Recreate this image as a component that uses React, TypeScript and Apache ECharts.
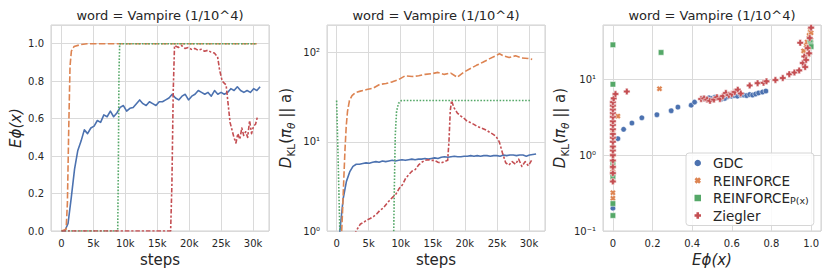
import React, { useEffect, useRef } from 'react';
import * as echarts from 'echarts';

const FONT = 'DejaVu Sans';
const INK = '#262626';
const GRIDLINE = '#dadada';
const BLUE = '#4c72b0';
const ORANGE = '#dd8452';
const GREEN = '#55a868';
const RED = '#c44e52';

const TITLE = 'word = Vampire (1/10^4)';

// ---------- training steps (regular logging grid) ----------
const gridSteps = [
  0, 510, 1020, 1530, 2040, 2550, 3060, 3570, 4080, 4590, 5100, 5610, 6120, 6630, 7140, 7650,
  8160, 8670, 9180, 9690, 10200, 10710, 11220, 11730, 12240, 12750, 13260, 13770, 14280, 14790,
  15300, 15810, 16320, 16830, 17340, 17850, 18360, 18870, 19380, 19890, 20400, 20910, 21420,
  21930, 22440, 22950, 23460, 23970, 24480, 24990, 25500, 26010, 26520, 27030, 27540, 28050,
  28560, 29070, 29580, 30090, 30600, 31110,
];

// ---------- panel 1 : E phi(x) vs steps ----------
const gdcEphi = [
  0.0, 0.0, 0.04, 0.18, 0.33, 0.43, 0.48, 0.54, 0.52, 0.55,
  0.56, 0.59, 0.58, 0.62, 0.61, 0.64, 0.61, 0.63, 0.66, 0.67,
  0.64, 0.655, 0.66, 0.68, 0.70, 0.68, 0.67, 0.69, 0.68, 0.67,
  0.69, 0.69, 0.70, 0.71, 0.73, 0.71, 0.70, 0.72, 0.73, 0.70,
  0.72, 0.73, 0.75, 0.74, 0.73, 0.74, 0.72, 0.75, 0.73, 0.74,
  0.73, 0.74, 0.76, 0.75, 0.77, 0.75, 0.74, 0.75, 0.74, 0.76,
  0.75, 0.77,
];
const reinfEphiSteps = [0, 720, 920, 1130, 1330, 1540, 1950, 2970, 3990, 30600];
const reinfEphi = [0, 0.01, 0.15, 0.55, 0.88, 0.96, 0.985, 0.995, 1.0, 1.0];
const pxEphiSteps = [0, 8800, 8900, 9000, 9110, 30600];
const pxEphi = [0, 0, 0.35, 0.85, 1.0, 1.0];
const zieglerEphiSteps = [
  0, 17090, 17290, 17500, 17700, 18010, 18310, 18830, 19340, 19850,
  20360, 20870, 21380, 21890, 22410, 22920, 23430, 23940, 24450, 24760,
  25170, 25480, 25780, 26090, 26400, 26700, 27010, 27320, 27620, 27930,
  28240, 28540, 28850, 29160, 29460, 29770, 30080, 30390, 30690,
];
const zieglerEphi = [
  0, 0, 0.25, 0.75, 0.99, 0.985, 0.98, 0.99, 0.975, 0.98,
  0.97, 0.975, 0.965, 0.97, 0.96, 0.965, 0.955, 0.95, 0.93, 0.86,
  0.80, 0.79, 0.78, 0.68, 0.58, 0.54, 0.50, 0.47, 0.52, 0.49,
  0.55, 0.51, 0.53, 0.50, 0.59, 0.52, 0.56, 0.57, 0.61,
];

// ---------- panel 2 : KL vs steps ----------
const gdcKL = [
  0.5, 1.0, 2.3, 3.6, 4.6, 5.3, 5.6, 5.6, 5.7, 5.8,
  5.75, 5.9, 6.0, 5.9, 6.1, 6.0, 6.1, 6.2, 6.1, 6.2,
  6.3, 6.2, 6.3, 6.4, 6.3, 6.4, 6.4, 6.5, 6.4, 6.5,
  6.6, 6.5, 6.7, 6.8, 6.7, 6.8, 6.9, 6.8, 6.8, 6.9,
  6.9, 7.0, 6.9, 7.0, 6.9, 7.0, 7.0, 6.9, 7.0, 7.0,
  6.9, 7.1, 7.0, 7.1, 7.1, 7.0, 7.1, 7.1, 6.9, 7.1,
  7.2, 7.3,
];
const reinfKLSteps = [
  600, 900, 1100, 1300, 1500, 1700, 2000, 2400, 2900, 3700,
  4700, 5700, 6700, 7700, 8700, 9700, 10700, 11800, 12800, 13800,
  14800, 15800, 16800, 17800, 18800, 19800, 20800, 21800, 22800, 23800,
  24900, 25400, 25900, 26900, 27900, 28900, 29900, 30500,
];
const reinfKL = [
  0.5, 1.5, 3.5, 8, 15, 22, 29, 33, 35.5, 37,
  38.5, 40, 44, 45, 47, 50, 55, 54, 55, 57,
  58, 60, 57, 59, 53, 60, 66, 72, 78, 85,
  93, 97, 93, 88, 92, 87, 86, 84,
];
const pxKLSteps = [0, 200, 400, 600, 8850, 9000, 9150, 9350, 9650, 10100, 30400];
const pxKL = [29, 8, 2, 0.5, 0.5, 3, 12, 22, 27, 29, 29];
const zieglerKLSteps = [
  2720, 3220, 3720, 4230, 4730, 5230, 5740, 6240, 6740, 7250,
  7750, 8250, 8760, 9260, 9760, 10270, 10770, 11270, 11780, 12280,
  12790, 13290, 13790, 14300, 14800, 15300, 15810, 16310, 16810, 17320,
  17520, 17720, 17920, 18320, 18830, 19330, 19830, 20340, 20840, 21340,
  21850, 22350, 22850, 23360, 23860, 24360, 24870, 25370, 25870, 26380,
  26880, 27380, 27890, 28390, 28890, 29400, 29900, 30400,
];
const zieglerKL = [
  0.9, 1.05, 1.2, 1.25, 1.33, 1.38, 1.45, 1.55, 1.7, 1.8,
  2.0, 2.2, 2.4, 2.6, 3.0, 3.3, 3.9, 4.3, 4.7, 4.9,
  5.5, 5.9, 6.2, 6.3, 6.2, 6.2, 5.9, 5.8, 6.0, 6.2,
  10, 22, 29, 24, 21, 19.5, 18.5, 17, 16.5, 15.8,
  15, 14.5, 14, 13.5, 12.8, 12.2, 11.5, 10, 7.5, 5.8,
  5.5, 6.0, 5.6, 6.4, 5.3, 6.0, 5.4, 6.2,
];

// ---------- panel 3 : KL vs E phi(x) ----------
const gdcScatterE = [
  0, 0.025, 0.054, 0.096, 0.146, 0.222, 0.294, 0.328, 0.395, 0.412,
  0.452, 0.468, 0.485, 0.5, 0.515, 0.53, 0.548, 0.565, 0.58, 0.598,
  0.612, 0.628, 0.645, 0.66, 0.675, 0.69, 0.705, 0.72, 0.735, 0.755, 0.772,
];
const gdcScatterKL = [
  0.2, 1.65, 2.19, 2.65, 3.11, 3.41, 3.85, 4.3, 4.56, 5.0,
  5.6, 5.5, 5.7, 5.6, 5.8, 5.7, 5.5, 5.6, 5.9, 6.0,
  6.1, 6.0, 6.2, 6.2, 6.1, 6.3, 6.2, 6.4, 6.6, 6.8, 7.0,
];
const reinfScatterE = [
  0, 0, 0, 0, 0, 0, 0, 0, 0, 0, 0, 0, 0, 0.025, 0.235,
  0.962, 0.975, 0.98, 0.99, 0.995, 1.0, 1.0, 0.985,
];
const reinfScatterKL = [
  0.27, 0.32, 0.46, 0.52, 0.65, 0.8, 1.0, 1.25, 1.6, 2.0, 2.6, 3.3, 4.3, 3.27, 7.5,
  23.7, 28, 31, 38, 45, 33, 41, 21,
];
const pxScatterE = [0, 0, 0.243, 0, 0, 0, 0, 0, 0.998, 1.0, 0.995];
const pxScatterKL = [28.5, 8.6, 22.6, 0.79, 0.56, 0.52, 0.23, 0.16, 30, 27, 33];
const zieglerScatterE = [
  0, 0, 0, 0, 0, 0, 0, 0, 0, 0, 0, 0, 0, 0, 0, 0, 0, 0,
  0.004, 0.013, 0.07,
  0.445, 0.46, 0.475, 0.49, 0.51, 0.525, 0.54, 0.555, 0.57, 0.585, 0.6, 0.615, 0.63, 0.645,
  0.69, 0.73, 0.76, 0.775, 0.82, 0.857, 0.89, 0.916, 0.94,
  0.945, 0.958, 0.966, 0.97, 0.975, 0.983, 0.99, 0.993, 1.0,
];
const zieglerScatterKL = [
  0.45, 0.58, 0.7, 0.85, 1.0, 1.15, 1.3, 1.5, 1.7, 1.9, 2.2, 2.5, 2.8, 3.2, 3.6, 4.0, 4.5, 5.0,
  5.6, 6.4, 6.9,
  5.5, 5.6, 5.4, 5.2, 5.4, 5.8, 5.5, 6.0, 6.6, 6.2, 6.4, 6.8, 7.3, 6.5,
  8.3, 8.9, 9.0, 9.4, 9.8, 10.4, 11.7, 12.3, 13.1,
  30.3, 16.4, 20, 14.5, 18, 25.8, 22, 35, 48,
];

// ---------- helpers ----------
const pairs = (xs: number[], ys: number[]) => xs.map((x, i) => [x, ys[i]]);

const X_PATH = 'path://M0,3L3,0L5,2L7,0L10,3L8,5L10,7L7,10L5,8L3,10L0,7L2,5Z';
const P_PATH = 'path://M3,0H7V3H10V7H7V10H3V7H0V3H3Z';

const SUP: Record<string, string> = { '-1': '⁻¹', '0': '⁰', '1': '¹', '2': '²' };

const kFmt = (v: number) => {
  if (Math.abs(v / 5000 - Math.round(v / 5000)) > 1e-6) return '';
  return v === 0 ? '0' : `${Math.round(v / 1000)}k`;
};
const dec1Fmt = (v: number) => {
  if (Math.abs(v * 5 - Math.round(v * 5)) > 1e-6) return '';
  return v.toFixed(1);
};
const fracFmt = (v: number) => {
  if (Math.abs(v * 5 - Math.round(v * 5)) > 1e-6) return '';
  return Math.abs(v) < 1e-9 ? '0' : v.toFixed(1);
};
const logFmt = (v: number) => {
  const l = Math.log10(v);
  const r = Math.round(l);
  if (Math.abs(l - r) > 1e-6) return '';
  return '10' + (SUP[String(r)] ?? '');
};

const tickLabel = { color: INK, fontSize: 10, fontFamily: FONT, margin: 7 };
const splitLine = { show: true, lineStyle: { color: GRIDLINE, width: 1 } };

const plainName = { fontSize: 15, color: INK, fontFamily: FONT };
const italicName = { fontSize: 15, color: INK, fontFamily: FONT, fontStyle: 'italic' as const };
const klName = {
  fontSize: 15,
  color: INK,
  fontFamily: FONT,
  lineHeight: 20,
  rich: {
    it: { fontSize: 15, fontStyle: 'italic', color: INK, fontFamily: FONT, lineHeight: 20 },
    n: { fontSize: 15, color: INK, fontFamily: FONT, lineHeight: 20 },
    sub: { fontSize: 10.5, color: INK, fontFamily: FONT, lineHeight: 10, verticalAlign: 'bottom' },
    subi: {
      fontSize: 10.5, color: INK, fontFamily: FONT, fontStyle: 'italic', lineHeight: 10, verticalAlign: 'bottom',
    },
  },
};
const KL_LABEL = '{it|D}{sub|KL}{n|(}{it|π}{subi|θ}{n| || a)}';

const lineSeries = (
  name: string, xs: number[], ys: number[], color: string, dash: any, axis: number, z: number,
) => ({
  type: 'line',
  name,
  xAxisIndex: axis,
  yAxisIndex: axis,
  data: pairs(xs, ys),
  showSymbol: false,
  symbol: 'none',
  clip: true,
  z,
  lineStyle: { color, width: 1.6, type: dash, cap: 'butt', join: 'round' },
});

const DASH = [6.5, 2.4];
const DOT = [1.6, 1.6];
const DASHDOT = [4.5, 1.9, 2.25, 1.9];

const scatterSeries = (
  name: string, xs: number[], ys: number[], color: string, symbol: string, size: number, z: number,
) => ({
  type: 'scatter',
  name,
  xAxisIndex: 2,
  yAxisIndex: 2,
  data: pairs(xs, ys),
  symbol,
  symbolSize: size,
  clip: true,
  z,
  itemStyle: { color, borderColor: '#ffffff', borderWidth: 0.5, opacity: 1 },
});

const GRIDS = [
  { left: 51, top: 25, width: 218, height: 206 },
  { left: 327, top: 25, width: 218, height: 206 },
  { left: 603, top: 25, width: 218, height: 206 },
];

const legendText = (name: string) =>
  name === 'REINFORCEPX' ? '{t|REINFORCE}{sub|P(x)}' : `{t|${name}}`;

export default function App() {
  const ref = useRef<HTMLDivElement>(null);

  useEffect(() => {
    if (!ref.current) return;
    const chart = echarts.init(ref.current, undefined, { renderer: 'svg' });

    const option: any = {
      animation: false,
      backgroundColor: '#ffffff',
      textStyle: { fontFamily: FONT },
      grid: GRIDS.map((g) => ({
        ...g,
        show: true,
        borderColor: '#d0d0d0',
        borderWidth: 1,
        backgroundColor: '#ffffff',
        containLabel: false,
      })),
      graphic: GRIDS.map((g) => ({
        type: 'text',
        x: g.left + g.width / 2,
        y: 15.5,
        style: {
          text: TITLE,
          fontSize: 13,
          fontFamily: FONT,
          fill: INK,
          align: 'center',
          verticalAlign: 'middle',
        },
      })),
      xAxis: [
        {
          type: 'value', gridIndex: 0, min: -1650, max: 32500,
          axisLine: { show: false }, axisTick: { show: false }, splitLine,
          axisLabel: { ...tickLabel, formatter: kFmt },
          name: 'steps', nameLocation: 'middle', nameGap: 15, nameTextStyle: plainName,
        },
        {
          type: 'value', gridIndex: 1, min: -1500, max: 32500,
          axisLine: { show: false }, axisTick: { show: false }, splitLine,
          axisLabel: { ...tickLabel, formatter: kFmt },
          name: 'steps', nameLocation: 'middle', nameGap: 15, nameTextStyle: plainName,
        },
        {
          type: 'value', gridIndex: 2, min: -0.05, max: 1.05,
          axisLine: { show: false }, axisTick: { show: false }, splitLine,
          axisLabel: { ...tickLabel, formatter: fracFmt },
          name: 'Eϕ(x)', nameLocation: 'middle', nameGap: 14, nameTextStyle: italicName,
        },
      ],
      yAxis: [
        {
          type: 'value', gridIndex: 0, min: 0, max: 1.1,
          axisLine: { show: false }, axisTick: { show: false }, splitLine,
          axisLabel: { ...tickLabel, formatter: dec1Fmt },
          name: 'Eϕ(x)', nameLocation: 'middle', nameGap: 28, nameTextStyle: italicName,
        },
        {
          type: 'log', logBase: 10, gridIndex: 1, min: 1, max: 204,
          axisLine: { show: false }, axisTick: { show: false }, splitLine,
          minorTick: { show: false }, minorSplitLine: { show: false },
          axisLabel: { ...tickLabel, formatter: logFmt },
          name: KL_LABEL, nameLocation: 'middle', nameGap: 31, nameTextStyle: klName,
        },
        {
          type: 'log', logBase: 10, gridIndex: 2, min: 0.1, max: 52,
          axisLine: { show: false }, axisTick: { show: false }, splitLine,
          minorTick: { show: false }, minorSplitLine: { show: false },
          axisLabel: { ...tickLabel, formatter: logFmt },
          name: KL_LABEL, nameLocation: 'middle', nameGap: 28, nameTextStyle: klName,
        },
      ],
      legend: {
        orient: 'vertical',
        left: 686,
        top: 153,
        padding: [3, 5, 3, 8.5],
        itemGap: 3.5,
        itemWidth: 6.5,
        itemHeight: 6.5,
        selectedMode: false,
        borderColor: '#d6d6d6',
        borderWidth: 1,
        borderRadius: 3,
        backgroundColor: 'rgba(255,255,255,0.85)',
        itemStyle: { borderWidth: 0 },
        data: [
          { name: 'GDC', icon: 'circle' },
          { name: 'REINFORCE', icon: X_PATH },
          { name: 'REINFORCEPX', icon: 'rect' },
          { name: 'Ziegler', icon: P_PATH },
        ],
        formatter: legendText,
        textStyle: {
          fontSize: 13.5,
          color: INK,
          fontFamily: FONT,
          lineHeight: 14,
          rich: {
            t: { fontSize: 13.5, color: INK, fontFamily: FONT, lineHeight: 14, padding: [0, 0, 0, 7] },
            sub: { fontSize: 9.5, color: INK, fontFamily: FONT, lineHeight: 6, verticalAlign: 'bottom' },
          },
        },
      },
      series: [
        // panel 1
        lineSeries('GDC-E', gridSteps, gdcEphi, BLUE, 'solid', 0, 2),
        lineSeries('REINFORCE-E', reinfEphiSteps, reinfEphi, ORANGE, DASH, 0, 3),
        lineSeries('PX-E', pxEphiSteps, pxEphi, GREEN, DOT, 0, 4),
        lineSeries('Ziegler-E', zieglerEphiSteps, zieglerEphi, RED, DASHDOT, 0, 5),
        // panel 2
        lineSeries('GDC-KL', gridSteps, gdcKL, BLUE, 'solid', 1, 2),
        lineSeries('REINFORCE-KL', reinfKLSteps, reinfKL, ORANGE, DASH, 1, 3),
        lineSeries('PX-KL', pxKLSteps, pxKL, GREEN, DOT, 1, 4),
        lineSeries('Ziegler-KL', zieglerKLSteps, zieglerKL, RED, DASHDOT, 1, 5),
        // panel 3
        scatterSeries('GDC', gdcScatterE, gdcScatterKL, BLUE, 'circle', 5.5, 2),
        scatterSeries('REINFORCE', reinfScatterE, reinfScatterKL, ORANGE, X_PATH, 6, 3),
        scatterSeries('REINFORCEPX', pxScatterE, pxScatterKL, GREEN, 'rect', 5.5, 4),
        scatterSeries('Ziegler', zieglerScatterE, zieglerScatterKL, RED, P_PATH, 6.5, 5),
      ],
    };

    chart.setOption(option);
    return () => chart.dispose();
  }, []);

  return (
    <div
      ref={ref}
      style={{ position: 'absolute', left: 0, top: 0, width: 830, height: 277, background: '#ffffff' }}
    />
  );
}
